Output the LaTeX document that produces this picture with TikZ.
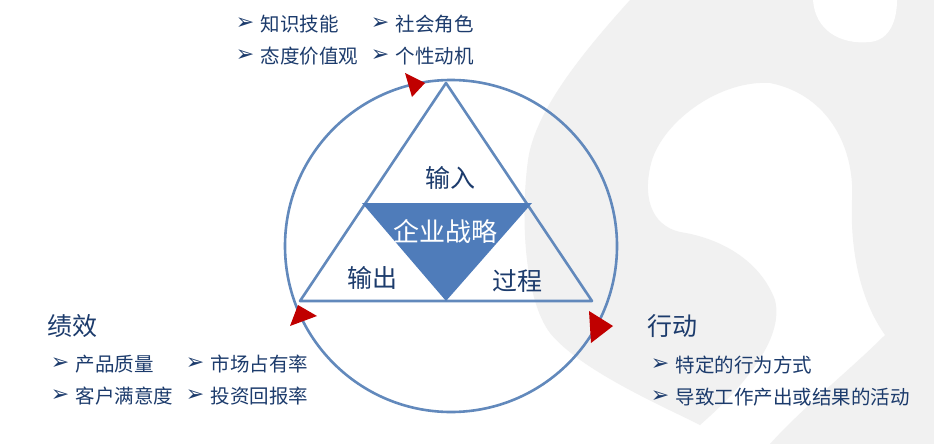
\documentclass[tikz,border=0pt]{standalone}
\usepackage{fontspec}
\setmainfont{Noto Sans CJK SC}
\newfontfamily\symfont{DejaVu Sans}
\usetikzlibrary{positioning}
\definecolor{navy}{HTML}{1C3B6C}
\definecolor{ring}{HTML}{6289BC}
\definecolor{corefill}{HTML}{4F7CBA}
\definecolor{tipred}{HTML}{C00000}
\definecolor{mapgrey}{HTML}{F1F1F1}

\begin{document}
\begin{tikzpicture}[x=1pt,y=-1pt,
  bul/.style={font=\symfont\fontsize{22}{22}\selectfont,text=navy,inner sep=0pt},
  item/.style={font=\fontsize{19.5}{20}\selectfont,text=navy,inner sep=0pt},
  head/.style={font=\fontsize{25}{26}\selectfont,text=navy,inner sep=0pt,anchor=west},
  lbl/.style={font=\fontsize{25}{26}\selectfont,text=navy,inner sep=0pt},
  edge/.style={draw=ring,line width=2.6pt,line join=round},
  tip/.style={fill=tipred}
]
\useasboundingbox (0,0) rectangle (934,444);
\fill[white] (0,0) rectangle (934,444);
% background map shape
\fill[mapgrey] (700,425) .. controls (660,405) and (580,370) .. (550,333)
  .. controls (525,300) and (520,220) .. (528,160)
  .. controls (535,110) and (585,50) .. (630,0) -- (934,0) -- (934,444) -- (770,444)
  .. controls (800,410) and (850,370) .. (885,335)
  .. controls (860,300) and (850,250) .. (852,200)
  .. controls (855,150) and (830,95) .. (770,83)
  .. controls (720,80) and (665,120) .. (652,160)
  .. controls (642,195) and (650,225) .. (680,232)
  .. controls (720,238) and (760,260) .. (775,300)
  .. controls (785,340) and (740,390) .. (700,425) -- cycle;
\fill[white] (813,0) .. controls (815,30) and (840,45) .. (870,42)
  .. controls (890,40) and (897,20) .. (897,0) -- cycle;
% ring and triangles
\draw[edge] (451,246) circle[radius=166pt];
\draw[edge] (446,83) -- (300,301) -- (592,301) -- cycle;
\fill[corefill] (362,203) -- (532,203) -- (446,301) -- cycle;
\fill[tip] (405,73) -- (425,83) -- (412,97) -- cycle;
\fill[tip] (298,305) -- (317,316) -- (290,326) -- cycle;
\fill[tip] (589,311) -- (613,326) -- (591,343) -- cycle;
% labels in the triangle
\node[lbl] (in) at (450,178) {输入};
\node[lbl,text=white,font=\fontsize{26}{27}\selectfont] (core) at (445,232) {企业战略};
\node[lbl] (out) at (372,278) {输出};
\node[lbl] (proc) at (517,281) {过程};
% headings
\node[head] (perf) at (47,326) {绩效};
\node[head] (act) at (647,326) {行动};
% bullet lists
\foreach \name/\x/\y/\txt in {k1/245/24/知识技能,k2/380/24/社会角色,k3/245/56/态度价值观,k4/380/56/个性动机,
    p1/60/364/产品质量,p2/195/364/市场占有率,p3/60/396/客户满意度,p4/195/396/投资回报率,
    a1/660/365/特定的行为方式,a2/660/397/导致工作产出或结果的活动}{
  \node[bul] (\name b) at (\x,\y) {➢};
  \node[item,right=6pt of \name b] (\name) {\txt};
}
\end{tikzpicture}
\end{document}
